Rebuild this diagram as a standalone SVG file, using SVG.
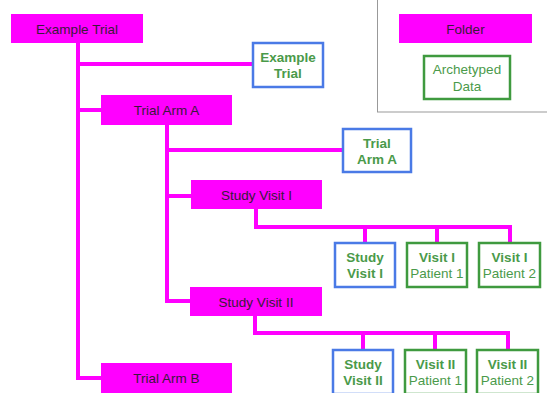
<svg xmlns="http://www.w3.org/2000/svg" width="547" height="393" viewBox="0 0 547 393">
<style>
.f{fill:#ff00ff}
.ft{font-family:"Liberation Sans",Arial,sans-serif;font-size:13.5px;fill:#3a1a3a;text-anchor:middle}
.blue{fill:#fff;stroke:#4a7ae6;stroke-width:2.5}
.green{fill:#fff;stroke:#3f9a3f;stroke-width:2.5}
.dt{font-family:"Liberation Sans",Arial,sans-serif;font-size:13.5px;fill:#4a9a4a;text-anchor:middle}
.b{font-weight:bold}
.c{fill:none;stroke:#ff00ff;stroke-width:4}
</style>
<rect width="547" height="393" fill="#fff"/>
<g id="connectors">
<path class="c" d="M78 43V378H101"/>
<path class="c" d="M78 64H253"/>
<path class="c" d="M78 110H101"/>
<path class="c" d="M167 125V301H190"/>
<path class="c" d="M167 150H343"/>
<path class="c" d="M167 196H191"/>
<path class="c" d="M256 209V227H510V243"/>
<path class="c" d="M365 227V243M437 227V243"/>
<path class="c" d="M255 316V333H508V350"/>
<path class="c" d="M363 333V350M435 333V350"/>
</g>
<g id="legend">
<rect x="377.5" y="-2" width="172" height="114" fill="#fff" stroke="#999" stroke-width="1"/>
</g>
<g id="legend-folder"><rect class="f" x="399" y="14" width="133" height="29"/><text class="ft" x="465.5" y="33.5">Folder</text></g>
<g id="legend-data"><rect class="green" x="424" y="56" width="86" height="43"/><text class="dt" x="467" y="74">Archetyped</text><text class="dt" x="467" y="91">Data</text></g>
<g id="example-trial"><rect class="f" x="11" y="14" width="132" height="29"/><text class="ft" x="77" y="33.5">Example Trial</text></g>
<g id="example-trial-data"><rect class="blue" x="253" y="43" width="70" height="44"/><text class="dt b" x="288" y="62">Example</text><text class="dt b" x="288" y="78">Trial</text></g>
<g id="trial-arm-a"><rect class="f" x="101" y="95" width="131" height="30"/><text class="ft" x="166.5" y="115">Trial Arm A</text></g>
<g id="trial-arm-a-data"><rect class="blue" x="343" y="129" width="68" height="43"/><text class="dt b" x="377" y="148">Trial</text><text class="dt b" x="377" y="164">Arm A</text></g>
<g id="study-visit-1"><rect class="f" x="191" y="180" width="131" height="29"/><text class="ft" x="256.5" y="199.5">Study Visit I</text></g>
<g id="study-visit-1-data"><rect class="blue" x="335" y="243" width="60" height="44"/><text class="dt b" x="365" y="262">Study</text><text class="dt b" x="365" y="278">Visit I</text></g>
<g id="visit-1-patient-1"><rect class="green" x="407" y="243" width="60" height="44"/><text class="dt b" x="437" y="262">Visit I</text><text class="dt" x="437" y="278">Patient 1</text></g>
<g id="visit-1-patient-2"><rect class="green" x="479" y="243" width="61" height="44"/><text class="dt b" x="509.5" y="262">Visit I</text><text class="dt" x="509.5" y="278">Patient 2</text></g>
<g id="study-visit-2"><rect class="f" x="190" y="287" width="132" height="29"/><text class="ft" x="256" y="306.5">Study Visit II</text></g>
<g id="study-visit-2-data"><rect class="blue" x="333" y="350" width="60" height="44"/><text class="dt b" x="363" y="369">Study</text><text class="dt b" x="363" y="385">Visit II</text></g>
<g id="visit-2-patient-1"><rect class="green" x="405" y="350" width="61" height="44"/><text class="dt b" x="435.5" y="369">Visit II</text><text class="dt" x="435.5" y="385">Patient 1</text></g>
<g id="visit-2-patient-2"><rect class="green" x="477" y="350" width="61" height="44"/><text class="dt b" x="507.5" y="369">Visit II</text><text class="dt" x="507.5" y="385">Patient 2</text></g>
<g id="trial-arm-b"><rect class="f" x="101" y="363" width="131" height="31"/><text class="ft" x="166.5" y="383">Trial Arm B</text></g>
</svg>
